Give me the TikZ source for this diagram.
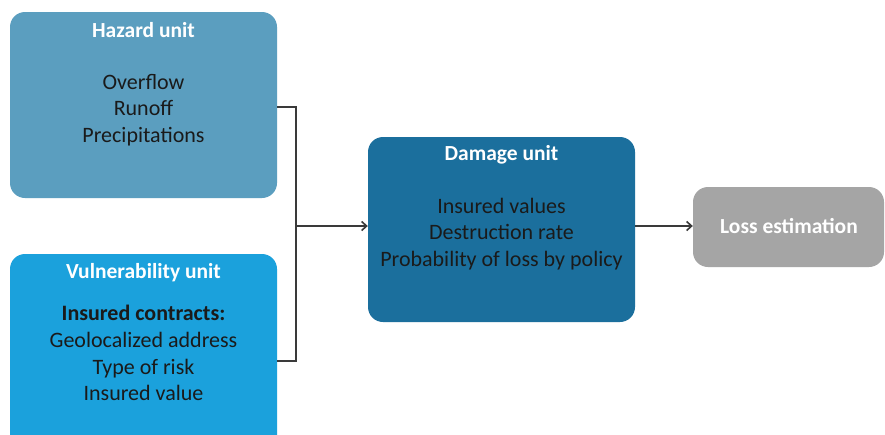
\documentclass[tikz,border=0pt]{standalone}
\usepackage{fontspec}
\setmainfont{Carlito}
\usetikzlibrary{arrows.meta}
\definecolor{hazc}{HTML}{5B9EBF}
\definecolor{vulc}{HTML}{1BA1DC}
\definecolor{damc}{HTML}{1B6F9D}
\definecolor{lossc}{HTML}{A5A5A5}
\definecolor{txtc}{HTML}{1A1A1A}
\definecolor{linec}{HTML}{3A3A3A}
\tikzset{
  unitbox/.style={rectangle, rounded corners=15pt, draw=none, inner sep=0pt},
  titletxt/.style={text=white, font=\fontsize{21.5}{25}\selectfont\bfseries, inner sep=0pt},
  bodytxt/.style={text=txtc, font=\fontsize{22}{26.8}\selectfont, align=center, inner sep=0pt},
  conn/.style={draw=linec, line width=1.4pt},
  arr/.style={conn, -{Straight Barb[length=5pt,width=9pt,line width=1.6pt]}}
}
\begin{document}
\begin{tikzpicture}[x=1pt,y=-1pt]
\clip (0,0) rectangle (885,434);
\fill[white] (0,0) rectangle (885,434);
% boxes
\node[unitbox, fill=hazc, minimum width=267pt, minimum height=186pt] (haz) at (143.5,105) {};
\node[unitbox, fill=vulc, minimum width=267pt, minimum height=200pt] (vul) at (143.5,354) {};
\node[unitbox, fill=damc, minimum width=267pt, minimum height=185pt] (dam) at (501.5,229.5) {};
\node[unitbox, fill=lossc, minimum width=191pt, minimum height=80pt] (loss) at (788.5,227) {};
% texts
\node[titletxt] (hazt) at (143.5,30) {Hazard unit};
\node[bodytxt] (hazb) at (143.5,110) {Overflow\\Runoff\\Precipitations};
\node[titletxt] (vult) at (143.5,273) {Vulnerability unit};
\node[bodytxt] (vulb) at (143.5,353) {\textbf{Insured contracts:}\\Geolocalized address\\Type of risk\\Insured value};
\node[titletxt] (damt) at (501.5,155) {Damage unit};
\node[bodytxt] (damb) at (501.5,234) {Insured values\\Destruction rate\\Probability of loss by policy};
\node[titletxt] (losst) at (789,226) {Loss estimation};
% connectors
\coordinate (j) at (296,226);
\draw[conn] ([yshift=-2pt]haz.east) -| (j);
\draw[conn] ([yshift=-7pt]vul.east) -| (j);
\draw[arr] (j) -- (j -| dam.west);
\draw[arr] (dam.east |- j) -- (loss.west |- j);
\end{tikzpicture}
\end{document}
